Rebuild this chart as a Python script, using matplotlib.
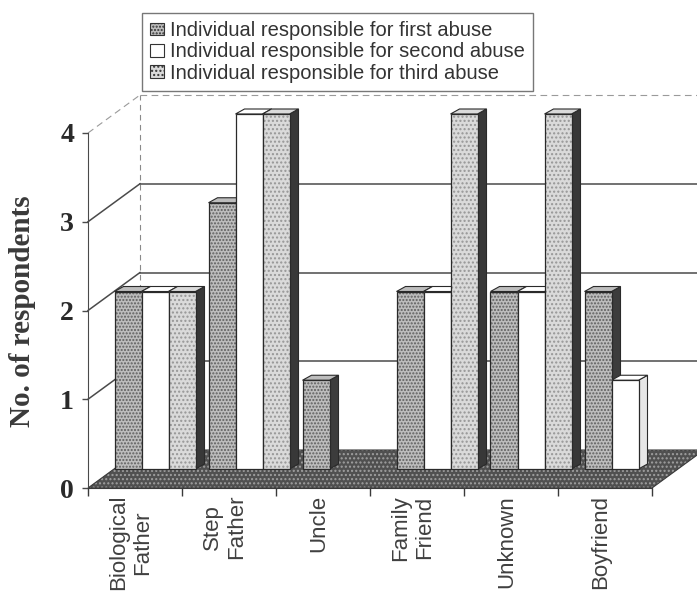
import matplotlib
matplotlib.use('Agg')
import matplotlib.pyplot as plt
from matplotlib.patches import Patch, Polygon

categories = ['Biological\nFather', 'Step\nFather', 'Uncle',
              'Family\nFriend', 'Unknown', 'Boyfriend']
first_abuse = [2, 3, 1, 2, 2, 2]
second_abuse = [2, 4, 0, 2, 2, 1]
third_abuse = [2, 4, 0, 4, 4, 0]
series_names = ['Individual responsible for first abuse',
                'Individual responsible for second abuse',
                'Individual responsible for third abuse']
y_ticks = [0, 1, 2, 3, 4]

# face, hatch, hatch colour, side face
styles = [
    dict(face='#bdbdbd', hatch='.....', hcol='#5e5e5e', side='#3c3c3c'),
    dict(face='#ffffff', hatch=None, hcol='#ffffff', side='#e6e6e6'),
    dict(face='#dadada', hatch='....', hcol='#969696', side='#383838'),
]

W, H = 697, 595
fig = plt.figure(figsize=(W / 100, H / 100), dpi=100)
# front plane of the chart box, in pixels
ax = fig.add_axes([88 / W, 107 / H, 564 / W, 355 / H])
ax.set_xlim(0, len(categories))
ax.set_ylim(0, 4)
ax.patch.set_alpha(0)

# pixel -> data unit conversion for the oblique projection
PX_X = len(categories) / 564
PX_Y = 4 / 355
BACK = (52 * PX_X, 38 * PX_Y)      # back wall offset
PLANE = (20 * PX_X, 19 * PX_Y)     # plane the columns stand on
DEPTH = (9 * PX_X, 5 * PX_Y)       # column depth

n = len(categories)
line_col = '#4a4a4a'

# floor
floor_pts = [(0, 0), (n, 0), (n + BACK[0], BACK[1]), (BACK[0], BACK[1])]
ax.add_patch(Polygon(floor_pts, closed=True, facecolor='#505050',
                     edgecolor='#a0a0a0', hatch='....', lw=0, zorder=1,
                     clip_on=False))
ax.add_patch(Polygon(floor_pts, closed=True, fill=False, edgecolor='#3a3a3a',
                     lw=0.8, zorder=1.1, clip_on=False))

# gridlines on the side and back walls
for v in y_ticks[1:]:
    style = dict(color=line_col, lw=1.1) if v < 4 else \
        dict(color='#9a9a9a', lw=0.8, ls=(0, (6, 4)))
    ax.plot([0, BACK[0]], [v, v + BACK[1]], clip_on=False, zorder=0.5, **style)
    ax.plot([BACK[0], n + BACK[0]], [v + BACK[1]] * 2, clip_on=False,
            zorder=0.5, **style)
ax.plot([BACK[0]] * 2, [BACK[1], 4 + BACK[1]], color='#8a8a8a', lw=0.8,
        ls=(0, (5, 4)), clip_on=False, zorder=0.5)

# columns: front face via ax.bar, top and side faces as polygons
values = [first_abuse, second_abuse, third_abuse]
w = 27 / 94
for k, (vals, st) in enumerate(zip(values, styles)):
    lefts = [i + 0.5 + (k - 1.5) * w + PLANE[0]
             for i in range(n) if vals[i] > 0]
    heights = [v for v in vals if v > 0]
    ax.bar(lefts, heights, width=w, bottom=PLANE[1], align='edge',
           color=st['face'], edgecolor=st['hcol'], hatch=st['hatch'],
           lw=0, zorder=3 + k + 0.05, clip_on=False)
    ax.bar(lefts, heights, width=w, bottom=PLANE[1], align='edge', fill=False,
           edgecolor='#2a2a2a', lw=0.9, zorder=3 + k + 0.06, clip_on=False)
    for x0, v in zip(lefts, heights):
        x1 = x0 + w
        y0, y1 = PLANE[1], PLANE[1] + v
        side = [(x1, y0), (x1, y1), (x1 + DEPTH[0], y1 + DEPTH[1]),
                (x1 + DEPTH[0], y0 + DEPTH[1])]
        top = [(x0, y1), (x1, y1), (x1 + DEPTH[0], y1 + DEPTH[1]),
               (x0 + DEPTH[0], y1 + DEPTH[1])]
        ax.add_patch(Polygon(side, closed=True, facecolor=st['side'],
                             edgecolor='#2a2a2a', lw=0.8, zorder=3 + k,
                             clip_on=False))
        ax.add_patch(Polygon(top, closed=True, facecolor=st['face'],
                             edgecolor='#2a2a2a', lw=0.8,
                             zorder=3 + k + 0.01, clip_on=False))

# axes: front vertical axis and front floor edge
for s in ['top', 'right']:
    ax.spines[s].set_visible(False)
ax.spines['left'].set_color(line_col)
ax.spines['bottom'].set_color('#3a3a3a')
ax.spines['left'].set_zorder(2)
ax.set_yticks(y_ticks)
ax.set_yticklabels([str(v) for v in y_ticks], fontsize=20,
                   fontfamily='Liberation Serif', fontweight='bold',
                   color='#2a2a2a')
ax.tick_params(axis='y', length=4, width=1, color=line_col, pad=6)
ax.set_xticks(range(n + 1), minor=True)
ax.set_xticks([i + 0.45 for i in range(n)])
ax.set_xticklabels(categories, rotation=90, fontsize=16,
                   fontfamily='Liberation Sans', color='#404040',
                   va='top', ha='center', multialignment='center')
ax.tick_params(axis='x', which='major', length=0, pad=5)
ax.tick_params(axis='x', which='minor', length=6, width=1, color='#3a3a3a')

fig.text(23 / W, 1 - 311 / H, 'No. of respondents', rotation=90,
         fontsize=21, fontfamily='Liberation Serif', fontweight='bold',
         color='#3a3a3a', ha='center', va='center')

handles = [Patch(facecolor=st['face'], edgecolor='#333333', hatch=st['hatch'],
                 lw=0.8) for st in styles]
leg = fig.legend(handles, series_names, loc='upper left',
                 bbox_to_anchor=(142 / W, 1 - 13 / H), frameon=True,
                 fancybox=False, edgecolor='#777777', framealpha=1,
                 prop={'family': 'Liberation Sans', 'size': 14.5},
                 handlelength=0.7, handleheight=0.6, handletextpad=0.3,
                 labelspacing=0.12, borderpad=0.4, borderaxespad=0)
leg.get_frame().set_linewidth(1.0)
for t in leg.get_texts():
    t.set_color('#333333')

fig.savefig('out.png', dpi=100)
